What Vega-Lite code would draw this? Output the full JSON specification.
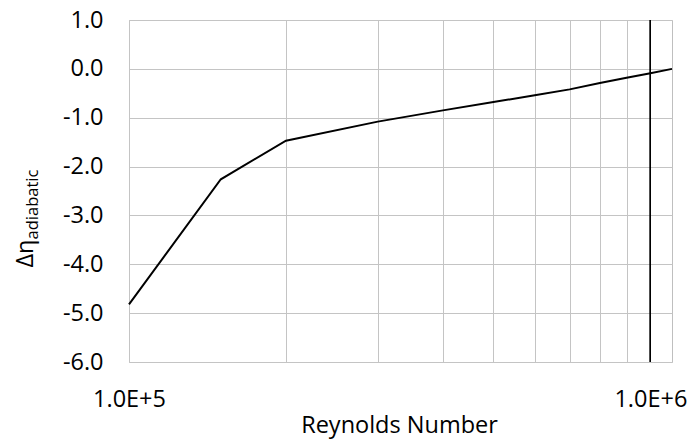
{
  "$schema": "https://vega.github.io/schema/vega-lite/v6.json",
  "autosize": {"type": "none"},
  "width": 543,
  "height": 342,
  "padding": {"left": 129, "top": 20, "right": 17, "bottom": 78},
  "background": "white",
  "config": {
    "font": "Open Sans",
    "view": {"stroke": "#bfbfbf", "strokeWidth": 1},
    "axis": {
      "labelFont": "Open Sans",
      "labelFontSize": 23.5,
      "labelColor": "#000000",
      "titleFont": "Open Sans",
      "titleFontSize": 23.5,
      "titleFontWeight": "normal",
      "titleColor": "#000000",
      "gridColor": "#c4c4c4",
      "gridWidth": 1,
      "domain": false,
      "ticks": false,
      "tickSize": 0
    }
  },
  "data": {
    "values": [
      {"re": 100000, "deta": -4.82},
      {"re": 150000, "deta": -2.26},
      {"re": 200000, "deta": -1.47},
      {"re": 300000, "deta": -1.08},
      {"re": 400000, "deta": -0.85},
      {"re": 500000, "deta": -0.68},
      {"re": 600000, "deta": -0.54},
      {"re": 700000, "deta": -0.42},
      {"re": 800000, "deta": -0.29},
      {"re": 900000, "deta": -0.18},
      {"re": 1000000, "deta": -0.09},
      {"re": 1100000, "deta": 0.0}
    ]
  },
  "layer": [
    {
      "mark": {"type": "line", "color": "#000000", "strokeWidth": 2},
      "encoding": {
        "x": {
          "field": "re",
          "type": "quantitative",
          "scale": {"type": "log", "domain": [100000, 1100000], "nice": false},
          "axis": {
            "title": "Reynolds Number",
            "values": [100000, 200000, 300000, 400000, 500000, 600000, 700000, 800000, 900000, 1000000],
            "labelExpr": "(datum.value == 100000 || datum.value == 1000000) ? replace(format(datum.value, '.1e'), 'e', 'E') : ''",
            "labelFlush": false,
            "labelOverlap": false,
            "labelBaseline": "alphabetic",
            "labelPadding": 44,
            "titleBaseline": "alphabetic",
            "titleY": 70,
            "titleX": 270
          }
        },
        "y": {
          "field": "deta",
          "type": "quantitative",
          "scale": {"domain": [-6, 1], "nice": false},
          "axis": {
            "title": "Δη",
            "titleFontSize": 23.5,
            "values": [-6, -5, -4, -3, -2, -1, 0, 1],
            "labelExpr": "(datum.value < 0 ? '-' : '') + format(abs(datum.value), '.1f')",
            "labelPadding": 26,
            "labelBaseline": "middle",
            "titleAngle": -90,
            "titleAlign": "center",
            "titleBaseline": "alphabetic",
            "titleX": -97,
            "titleY": 233
          }
        }
      }
    },
    {
      "mark": {"type": "rule", "color": "#000000", "strokeWidth": 1},
      "encoding": {
        "x": {"datum": 1000000, "type": "quantitative"},
        "y": {
          "datum": -6,
          "type": "quantitative",
          "axis": {
            "orient": "left",
            "title": "adiabatic",
            "titleFontSize": 16.5,
            "labels": false,
            "grid": false,
            "domain": false,
            "ticks": false,
            "titleAngle": -90,
            "titleAlign": "center",
            "titleBaseline": "alphabetic",
            "titleX": -92,
            "titleY": 184
          }
        },
        "y2": {"datum": 1}
      }
    }
  ],
  "resolve": {"axis": {"y": "independent"}}
}
